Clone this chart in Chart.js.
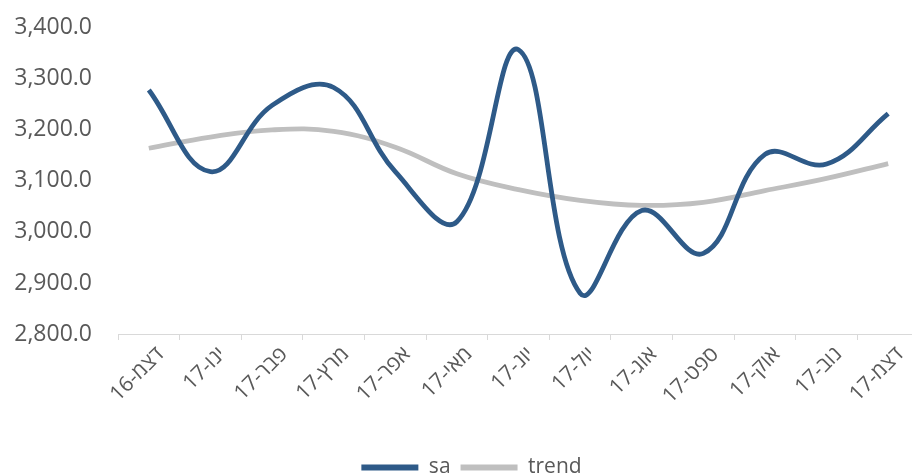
<!DOCTYPE html>
<html>
<head>
<meta charset="utf-8">
<script src="https://cdn.jsdelivr.net/npm/chart.js@4"></script>
<style>
  html, body { margin: 0; padding: 0; background: #fff; overflow: hidden; }
  #wrap { width: 919px; height: 492px; margin-top: -4px; }
</style>
</head>
<body>
<div id="wrap"><canvas id="chart"></canvas></div>
<script>
const months = ['דצמ-16', 'ינו-17', 'פבר-17', 'מרץ-17', 'אפר-17', 'מאי-17', 'יונ-17', 'יול-17', 'אוג-17', 'ספט-17', 'אוק-17', 'נוב-17', 'דצמ-17'];
const saValues = [3278, 3118, 3248, 3283, 3118, 3020, 3357, 2880, 3042, 2958, 3152, 3133, 3232];
const trendValues = [3164, 3186, 3200, 3197, 3166, 3114, 3083, 3062, 3052, 3058, 3081, 3105, 3134];
const yTicks = [2800, 2900, 3000, 3100, 3200, 3300, 3400];

const textColor = '#595959';
const fontFamily = "'Segoe UI', 'Open Sans', 'Liberation Sans', sans-serif";

// legend in the original sits a bit right of the canvas centre
const legendShift = {
    id: 'legendShift',
    afterLayout(chart) { chart.legend.left += 12; chart.legend.right += 12; }
};

window.onload = () => {
    new Chart(document.getElementById('chart'), {
        type: 'line',
        data: {
            labels: months,
            datasets: [
                { label: 'sa', data: saValues, borderColor: '#2E5A88', backgroundColor: '#2E5A88', borderWidth: 4.8, pointRadius: 0, tension: 0.4 },
                { label: 'trend', data: trendValues, borderColor: '#BFBFBF', backgroundColor: '#BFBFBF', borderWidth: 4.8, pointRadius: 0, tension: 0.4 }
            ]
        },
        plugins: [legendShift],
        options: {
            responsive: true,
            maintainAspectRatio: false,
            animation: false,
            layout: { padding: { left: 0, top: 1, right: 0, bottom: 0 } },
            plugins: {
                tooltip: { enabled: false },
                legend: {
                    position: 'bottom',
                    labels: {
                        color: textColor,
                        font: { family: fontFamily, size: 21 },
                        boxWidth: 57,
                        boxHeight: 6,
                        padding: 10,
                        generateLabels: chart => Chart.defaults.plugins.legend.labels.generateLabels(chart).map(l => ({ ...l, lineWidth: 0, fillStyle: l.strokeStyle }))
                    }
                }
            },
            scales: {
                x: {
                    offset: true,
                    afterFit: axis => { axis.height = 113; axis.paddingLeft = 0; axis.paddingRight = 0; },
                    grid: { display: true, drawOnChartArea: false, drawTicks: true, tickLength: 6, color: '#D9D9D9', offset: true },
                    border: { display: true, color: '#D9D9D9', width: 1 },
                    ticks: { color: textColor, font: { family: fontFamily, size: 21 }, minRotation: 45, maxRotation: 45, padding: 2, labelOffset: 12 }
                },
                y: {
                    min: 2800,
                    max: 3400,
                    afterBuildTicks: axis => { axis.ticks = yTicks.map(v => ({ value: v })); },
                    afterFit: axis => { axis.width = 118; },
                    grid: { display: false },
                    border: { display: false },
                    ticks: {
                        color: textColor,
                        font: { family: fontFamily, size: 23 },
                        padding: 18,
                        callback: v => v.toLocaleString('en-US', { minimumFractionDigits: 1, maximumFractionDigits: 1 })
                    }
                }
            }
        }
    });
};
</script>
</body>
</html>
